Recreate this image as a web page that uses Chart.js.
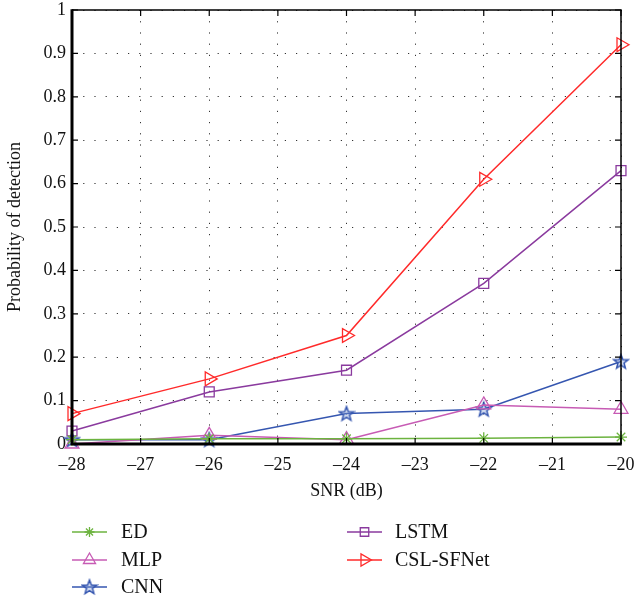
<!DOCTYPE html>
<html>
<head>
<meta charset="utf-8">
<script src="https://cdn.jsdelivr.net/npm/chart.js@4.4.1/dist/chart.umd.min.js"></script>
<style>
  html, body { margin: 0; padding: 0; background: #fff; }
  #wrap { width: 637px; height: 599px; }
</style>
</head>
<body>
<div id="wrap"><canvas id="chart" width="637" height="599"></canvas></div>
<script>
// --- data ---
const SNR = [-28, -26, -24, -22, -20];
const ED = [0.01, 0.012, 0.012, 0.013, 0.016];
const MLP = [0.0, 0.02, 0.01, 0.09, 0.08];
const CNN = [0.01, 0.01, 0.07, 0.08, 0.19];
const LSTM = [0.03, 0.12, 0.17, 0.37, 0.63];
const CSL = [0.07, 0.15, 0.25, 0.61, 0.92];
const LABELS = ['ED', 'MLP', 'CNN', 'LSTM', 'CSL-SFNet'];
const X_TICKS = [-28, -27, -26, -25, -24, -23, -22, -21, -20];
const Y_TICKS = [0, 0.1, 0.2, 0.3, 0.4, 0.5, 0.6, 0.7, 0.8, 0.9, 1];

const FONT = '"Liberation Serif", "DejaVu Serif", serif';

// five pointed star marker for CNN
function makeStar(color) {
    const c = document.createElement('canvas');
    c.width = 18; c.height = 18;
    const g = c.getContext('2d');
    g.beginPath();
    for (let i = 0; i < 10; i++) {
        const r = i % 2 === 0 ? 7.5 : 3.2;
        const a = -Math.PI / 2 + i * Math.PI / 5;
        const px = 9 + r * Math.cos(a), py = 9.5 + r * Math.sin(a);
        i === 0 ? g.moveTo(px, py) : g.lineTo(px, py);
    }
    g.closePath();
    g.fillStyle = 'rgba(120,150,210,0.35)';
    g.fill();
    g.strokeStyle = color;
    g.lineWidth = 1.5;
    g.stroke();
    return c;
}

const COLORS = ['#6cb33f', '#c75bb4', '#3556b0', '#8a3a9e', '#ff2a2a'];
const starImg = makeStar(COLORS[2]);

const STYLES = [
    { pointStyle: 'star', radius: 6, rotation: 0 },
    { pointStyle: 'triangle', radius: 8, rotation: 0 },
    { pointStyle: starImg, radius: 8, rotation: 0 },
    { pointStyle: 'rect', radius: 7, rotation: 0 },
    { pointStyle: 'triangle', radius: 8, rotation: 90 },
];

const SERIES = [ED, MLP, CNN, LSTM, CSL];

const datasets = SERIES.map((vals, i) => ({
    label: LABELS[i],
    data: SNR.map((x, j) => ({ x: x, y: vals[j] })),
    borderColor: COLORS[i],
    backgroundColor: 'rgba(0,0,0,0)',
    borderWidth: 1.5,
    pointStyle: STYLES[i].pointStyle,
    pointRadius: STYLES[i].radius,
    pointRotation: STYLES[i].rotation,
    pointBorderWidth: 1.3,
    pointBorderColor: COLORS[i],
    pointBackgroundColor: 'rgba(0,0,0,0)',
    tension: 0,
    clip: false,
}));

// frame around the plot area, thick on left and bottom
const framePlugin = {
    id: 'frame',
    afterDatasetsDraw(chart) {
        const { ctx, chartArea: a, scales } = chart;
        ctx.save();
        ctx.strokeStyle = '#000';
        ctx.lineWidth = 1.5;
        ctx.beginPath();
        ctx.moveTo(a.left, a.top); ctx.lineTo(a.right, a.top); ctx.lineTo(a.right, a.bottom);
        ctx.stroke();
        ctx.lineWidth = 3;
        ctx.beginPath();
        ctx.moveTo(a.left, a.top - 0.75); ctx.lineTo(a.left, a.bottom); ctx.lineTo(a.right + 0.75, a.bottom);
        ctx.stroke();
        // small inward ticks
        ctx.lineWidth = 1.2;
        X_TICKS.forEach(v => {
            const x = scales.x.getPixelForValue(v);
            ctx.beginPath();
            ctx.moveTo(x, a.bottom); ctx.lineTo(x, a.bottom - 6);
            ctx.moveTo(x, a.top); ctx.lineTo(x, a.top + 6);
            ctx.stroke();
        });
        Y_TICKS.forEach(v => {
            const y = scales.y.getPixelForValue(v);
            ctx.beginPath();
            ctx.moveTo(a.left, y); ctx.lineTo(a.left + 6, y);
            ctx.moveTo(a.right, y); ctx.lineTo(a.right - 6, y);
            ctx.stroke();
        });
        ctx.restore();
    }
};

// two column legend under the axis
const legendPlugin = {
    id: 'colLegend',
    afterDraw(chart) {
        const { ctx } = chart;
        const cols = [{ x0: 72, x1: 107, tx: 121 }, { x0: 347, x1: 382, tx: 395 }];
        const rows = [532, 560, 587];
        ctx.save();
        chart.data.datasets.forEach((ds, i) => {
            const col = cols[i < 3 ? 0 : 1];
            const y = rows[i < 3 ? i : i - 3];
            ctx.strokeStyle = ds.borderColor;
            ctx.lineWidth = 1.5;
            ctx.beginPath();
            ctx.moveTo(col.x0, y); ctx.lineTo(col.x1, y);
            ctx.stroke();
            ctx.fillStyle = 'rgba(0,0,0,0)';
            ctx.lineWidth = 1.3;
            Chart.helpers.drawPoint(ctx, {
                pointStyle: ds.pointStyle,
                radius: ds.pointRadius - 1,
                rotation: ds.pointRotation,
                borderWidth: 1.3
            }, (col.x0 + col.x1) / 2, y);
            ctx.fillStyle = '#111';
            ctx.font = '20px ' + FONT;
            ctx.textBaseline = 'middle';
            ctx.textAlign = 'left';
            ctx.fillText(ds.label, col.tx, y + 1);
        });
        ctx.restore();
    }
};

const minus = v => String(v).replace('-', '\u2013');

new Chart(document.getElementById('chart'), {
    type: 'line',
    data: { datasets: datasets },
    plugins: [framePlugin, legendPlugin],
    options: {
        responsive: false,
        animation: false,
        layout: { padding: { left: 0, right: 16, top: 10, bottom: 93 } },
        plugins: { legend: { display: false }, tooltip: { enabled: false } },
        scales: {
            x: {
                type: 'linear',
                min: -28, max: -20,
                afterBuildTicks: s => { s.ticks = X_TICKS.map(v => ({ value: v })); },
                afterFit: s => { s.height = 62; s.paddingLeft = 0; s.paddingRight = 0; },
                ticks: { callback: v => minus(v), color: '#111', font: { family: FONT, size: 18 }, padding: 10, maxRotation: 0 },
                grid: { color: '#333', lineWidth: 1, drawTicks: false },
                border: { display: false, dash: [1.2, 10] },
                title: { display: true, text: 'SNR (dB)', color: '#111', font: { family: FONT, size: 18 }, padding: { top: 5 } }
            },
            y: {
                min: 0, max: 1,
                afterBuildTicks: s => { s.ticks = Y_TICKS.map(v => ({ value: v })); },
                afterFit: s => { s.width = 72; s.paddingTop = 0; s.paddingBottom = 0; },
                ticks: { callback: v => String(Math.round(v * 10) / 10), color: '#111', font: { family: FONT, size: 18 }, padding: 6 },
                grid: { color: '#333', lineWidth: 1, drawTicks: false },
                border: { display: false, dash: [1.2, 10] },
                title: { display: true, text: 'Probability of detection', color: '#111', font: { family: FONT, size: 18 }, padding: { bottom: 4 } }
            }
        }
    }
});
</script>
</body>
</html>
